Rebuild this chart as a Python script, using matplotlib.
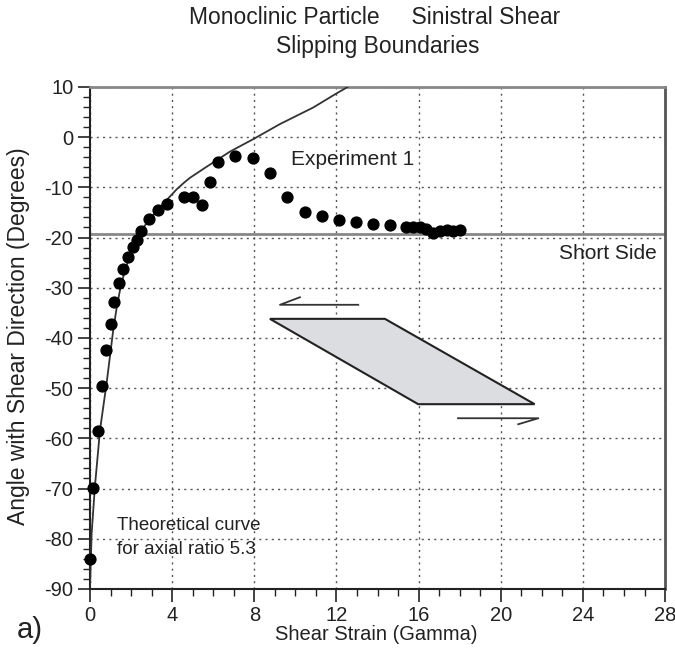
import matplotlib
matplotlib.use('Agg')
import matplotlib.pyplot as plt
from matplotlib.patches import Polygon
from matplotlib.ticker import MultipleLocator

plt.rcParams['font.family'] = ['Liberation Sans', 'DejaVu Sans']
plt.rcParams['axes.unicode_minus'] = False

# Experiment 1: measured angle vs shear strain
exp_gamma = [0.0, 0.16, 0.40, 0.60, 0.78, 1.01, 1.18, 1.43, 1.62, 1.86, 2.08, 2.27,
             2.48, 2.89, 3.32, 3.76, 4.57, 5.00, 5.44, 5.84, 6.24, 7.06, 7.92, 8.76,
             9.60, 10.46, 11.30, 12.13, 12.94, 13.79, 14.63, 15.41, 15.73, 16.06,
             16.38, 16.70, 17.03, 17.36, 17.68, 18.00]
exp_angle = [-84.0, -69.8, -58.5, -49.5, -42.4, -37.2, -32.8, -29.1, -26.2, -23.8,
             -21.8, -20.4, -18.8, -16.4, -14.5, -13.4, -12.0, -12.0, -13.5, -8.9,
             -4.9, -3.8, -4.2, -7.2, -11.9, -14.9, -15.7, -16.6, -17.0, -17.3,
             -17.5, -18.0, -18.0, -18.0, -18.3, -19.0, -18.8, -18.6, -18.8, -18.6]

# theoretical curve for axial ratio 5.3
curve_gamma = [0.0, 0.08, 0.24, 0.49, 0.81, 1.13, 1.30, 1.46, 1.65, 1.86, 2.11, 2.51,
               2.92, 3.41, 3.81, 4.22, 4.60, 4.87, 5.68, 6.81, 7.95, 9.25, 10.87,
               12.0, 12.55]
curve_angle = [-90.0, -79.0, -69.6, -58.3, -49.0, -38.5, -34.0, -30.5, -27.3, -24.6,
               -21.9, -18.5, -16.3, -14.0, -12.2, -10.4, -9.0, -8.1, -5.9, -2.9,
               -0.4, 2.6, 5.9, 8.7, 10.0]

short_side = -19.2

# sketch of the particle and shear-sense arrows (data coordinates)
particle_x = [8.76, 14.36, 21.65, 15.98]
particle_y = [-36.2, -36.2, -53.2, -53.2]
arrow_top_x = [13.06, 9.25, 10.22]
arrow_top_y = [-33.4, -33.4, -31.9]
arrow_bot_x = [17.92, 21.83, 20.85]
arrow_bot_y = [-56.0, -56.0, -57.2]

fig = plt.figure(figsize=(6.75, 6.6), dpi=100)
ax = fig.add_axes([0.1333, 0.1077, 0.852, 0.7606])

ax.set_xlim(0, 28)
ax.set_ylim(-90, 10)
ax.xaxis.set_major_locator(MultipleLocator(4))
ax.xaxis.set_minor_locator(MultipleLocator(1))
ax.yaxis.set_major_locator(MultipleLocator(10))
ax.yaxis.set_minor_locator(MultipleLocator(2))
ax.tick_params(which='major', direction='out', length=9, width=1.2,
               labelsize=14.5, colors='#222', pad=3)
ax.tick_params(which='minor', direction='out', length=5, width=1.0, color='#222')

ax.grid(True, which='major', color='#555', linestyle=(0, (1.5, 3)), linewidth=1.0)
ax.set_axisbelow(True)

for side in ['left', 'bottom']:
    ax.spines[side].set_color('#222')
    ax.spines[side].set_linewidth(1.5)
ax.spines['top'].set_color('#888')
ax.spines['top'].set_linewidth(2)
ax.spines['right'].set_color('#555')
ax.spines['right'].set_linewidth(2)

ax.axhline(short_side, color='#888', linewidth=2, zorder=2)

ax.add_patch(Polygon(list(zip(particle_x, particle_y)), closed=True,
                     facecolor='#dcdde0', edgecolor='#222', linewidth=1.5, zorder=2))
ax.plot(arrow_top_x, arrow_top_y, color='#333', linewidth=1.3, zorder=2)
ax.plot(arrow_bot_x, arrow_bot_y, color='#333', linewidth=1.3, zorder=2)

ax.plot(curve_gamma, curve_angle, color='#333', linewidth=1.3, zorder=3,
        solid_joinstyle='round')
ax.plot(exp_gamma, exp_angle, 'o', color='black', markersize=7.8, zorder=4, clip_on=False)

ax.text(9.8, -4.4, 'Experiment 1', fontsize=15, color='#222', va='center', ha='left')
ax.text(27.6, -23.1, 'Short Side', fontsize=15, color='#222', va='center', ha='right')
ax.text(1.3, -77.3, 'Theoretical curve', fontsize=13.5, color='#222', va='center', ha='left')
ax.text(1.3, -82.2, 'for axial ratio 5.3', fontsize=13.5, color='#222', va='center', ha='left')

fig.text(0.558, 0.038, 'Shear Strain (Gamma)', fontsize=14.5, color='#222',
         ha='center', va='center')
fig.text(0.027, 0.490, 'Angle with Shear Direction (Degrees)', fontsize=16.5,
         color='#222', ha='center', va='center', rotation=90)

fig.text(0.555, 0.973, 'Monoclinic Particle     Sinistral Shear', fontsize=16.5,
         color='#222', ha='center', va='center')
fig.text(0.560, 0.930, 'Slipping Boundaries', fontsize=16.5, color='#222',
         ha='center', va='center')
fig.text(0.025, 0.046, 'a)', fontsize=21, color='#222', ha='left', va='center')

plt.savefig('out.png', dpi=100)
